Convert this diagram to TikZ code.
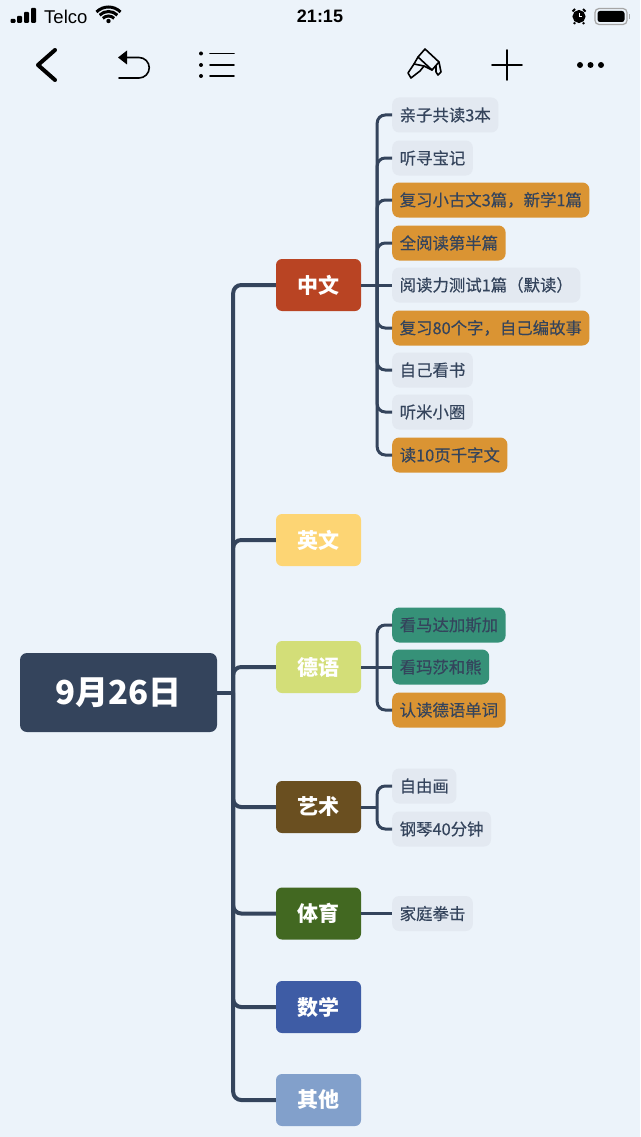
\documentclass[tikz,border=0pt]{standalone}
\usepackage{fontspec}
\setmainfont[FakeBold=0.4]{Noto Sans CJK SC}
\newfontfamily\headfont{Noto Sans CJK SC}
\newfontfamily\statusfont{Liberation Sans}
\definecolor{paper}{HTML}{ECF3FA}
\definecolor{navy}{HTML}{34445C}
\definecolor{leafgrey}{HTML}{E3E9F1}
\definecolor{orange}{HTML}{DA9433}
\definecolor{teal}{HTML}{369178}
\tikzset{
    topic/.style={rounded corners=6,minimum width=85,minimum height=52,text=white,font=\headfont\bfseries\fontsize{21}{26}\selectfont},
    leaf/.style={rounded corners=7,minimum height=35,inner xsep=7.5,inner ysep=0,anchor=west,text=navy,fill=leafgrey,font=\fontsize{16.4}{20}\selectfont},
    todo/.style={leaf,fill=orange},
    done/.style={leaf,fill=teal},
    trunk/.style={line width=4,navy,rounded corners=8},
    twig/.style={line width=3,navy,rounded corners=8},
    icon/.style={line width=1.6,black,line cap=round,line join=round},
}
\begin{document}
\begin{tikzpicture}[x=1pt,y=-1pt]
    \useasboundingbox[fill=paper] (0,0) rectangle (640,1137);
    % status bar
    \foreach \x/\h in {10.5/4,17/7,24/11,31/15}
        \fill[black,rounded corners=1] (\x,23) rectangle ++(5,-\h);
    \node[inner sep=0,anchor=west,font=\statusfont\fontsize{18.5}{20}\selectfont] (telco) at (44,16.5) {Telco};
    \foreach \r in {8,12.5,17}
        \draw[line width=3,black] (108.5,24) ++(-135:\r) arc (-135:-45:\r);
    \fill[black] (108.5,21) circle (2.2);
    \node[inner sep=0,font=\statusfont\bfseries\fontsize{18}{20}\selectfont] (clock) at (320,16.5) {21:15};
    \draw[line width=1.8,fill=white] (579,16.5) circle (5.6);
    \fill[black] (579,16.5) circle (5);
    \draw[white,line width=.8] (579,13) -- (579,16.5) -- (582,16.5);
    \draw[line width=2,black] (572.5,11.5) -- (575,9) (585.5,11.5) -- (583,9) (575,22.5) -- (574,24) (583,22.5) -- (584,24);
    \draw[gray!70,line width=1.2,rounded corners=4] (595,8.5) rectangle (627,24.5);
    \fill[black,rounded corners=2.5] (597.5,11) rectangle (624.5,22);
    \fill[gray!70] (628.5,14) rectangle (630,19);
    % tool bar
    \draw[icon,line width=4] (55,50) -- (38,65) -- (55,80);
    \fill[black] (118,57.5) -- (127,50.5) -- (127,64.5) -- cycle;
    \draw[icon] (126,57.5) -- (139,57.5) arc (-90:90:10.25) -- (119,78);
    \foreach \y in {53.5,65,76} {
        \fill[black] (201,\y) circle (2);
        \draw[icon] (210,\y) -- (234,\y);
    }
    \draw[icon] (425,49) -- (439,62) -- (432,70) -- (418,57) -- cycle;
    \draw[icon] (418,57) -- (414,64) -- (408,73) -- (411,78) -- (420,71) -- (424,66) -- (432,70);
    \draw[icon] (414,64) -- (424,66);
    \draw[icon] (439,62) -- (441,72) -- (438,75) -- (436,72) -- (436,66);
    \draw[icon] (492,65) -- (522,65) (507,50) -- (507,80);
    \foreach \x in {580,590.5,601}
        \fill[black] (\x,65) circle (3);
    % topics
    \node[fill=navy,rounded corners=7,minimum width=197,minimum height=79,text=white,font=\headfont\bfseries\fontsize{33}{36}\selectfont] (day) at (118.5,692.5) {9月26日};
    \node[topic,fill={rgb,255:red,185;green,68;blue,35}] (zhong) at (318.5,285) {中文};
    \node[topic,fill={rgb,255:red,253;green,213;blue,116}] (ying) at (318.5,540) {英文};
    \node[topic,fill={rgb,255:red,211;green,222;blue,120}] (de) at (318.5,667) {德语};
    \node[topic,fill={rgb,255:red,106;green,79;blue,32}] (yi) at (318.5,807) {艺术};
    \node[topic,fill={rgb,255:red,66;green,104;blue,33}] (ti) at (318.5,913.5) {体育};
    \node[topic,fill={rgb,255:red,62;green,92;blue,165}] (shu) at (318.5,1007) {数学};
    \node[topic,fill={rgb,255:red,130;green,160;blue,203}] (qi) at (318.5,1100) {其他};
    % leaves
    \node[leaf] (z1) at (392,115) {亲子共读3本};
    \node[leaf] (z2) at (392,158) {听寻宝记};
    \node[todo] (z3) at (392,200) {复习小古文3篇，新学1篇};
    \node[todo] (z4) at (392,243) {全阅读第半篇};
    \node[leaf] (z5) at (392,285) {阅读力测试1篇（默读）};
    \node[todo] (z6) at (392,328) {复习80个字，自己编故事};
    \node[leaf] (z7) at (392,370) {自己看书};
    \node[leaf] (z8) at (392,412) {听米小圈};
    \node[todo] (z9) at (392,455) {读10页千字文};
    \node[done] (d1) at (392,625) {看马达加斯加};
    \node[done] (d2) at (392,667) {看玛莎和熊};
    \node[todo] (d3) at (392,710) {认读德语单词};
    \node[leaf] (y1) at (392,786) {自由画};
    \node[leaf] (y2) at (392,829) {钢琴40分钟};
    \node[leaf] (t1) at (392,913.5) {家庭拳击};
    % connectors
    \coordinate (dayfork) at ([xshift=16]day.east);
    \coordinate (zhongfork) at ([xshift=16]zhong.east);
    \coordinate (defork) at ([xshift=16]de.east);
    \coordinate (yifork) at ([xshift=16]yi.east);
    \draw[trunk] (day.east) -- (dayfork);
    \foreach \t in {zhong,ying,de,yi,ti,shu,qi}
        \draw[trunk] (dayfork) |- (\t.west);
    \foreach \l in {z1,z2,z3,z4,z6,z7,z8,z9}
        \draw[twig] (zhongfork) |- (\l.west);
    \draw[twig] (zhong.east) -- (z5.west);
    \foreach \l in {d1,d3}
        \draw[twig] (defork) |- (\l.west);
    \draw[twig] (de.east) -- (d2.west);
    \draw[twig] (yi.east) -- (yifork);
    \foreach \l in {y1,y2}
        \draw[twig] (yifork) |- (\l.west);
    \draw[twig] (ti.east) -- (t1.west);
\end{tikzpicture}
\end{document}
